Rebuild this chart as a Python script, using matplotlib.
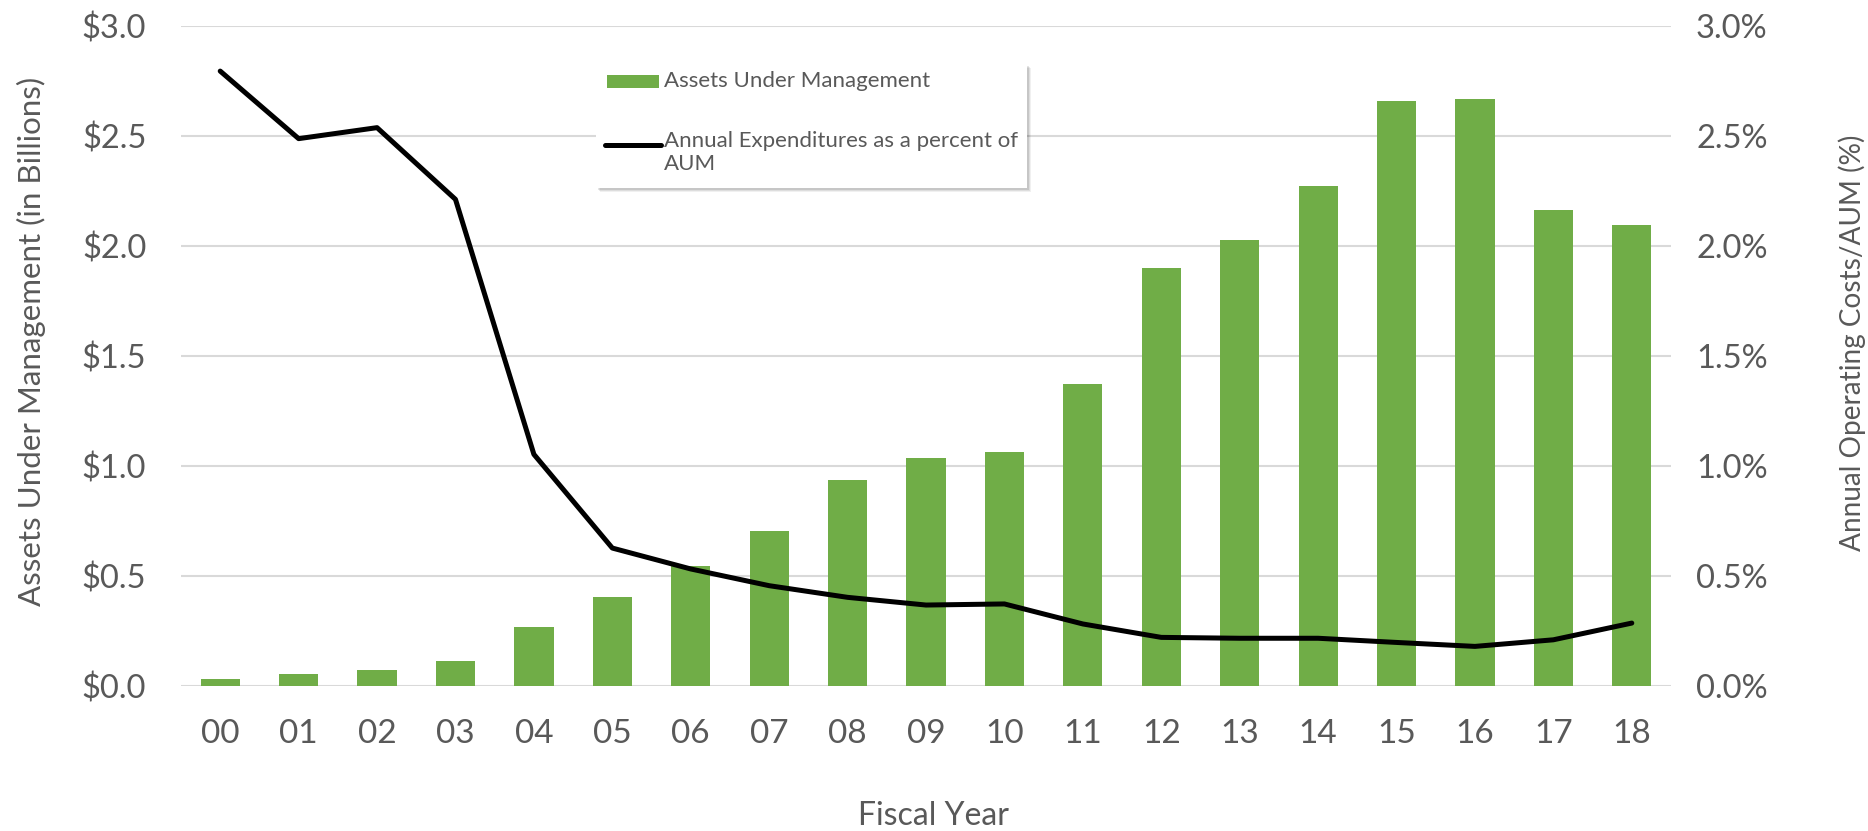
import matplotlib
matplotlib.use("Agg")
import matplotlib.pyplot as plt
from matplotlib.patches import Rectangle
from matplotlib.lines import Line2D

# data
years = ["00", "01", "02", "03", "04", "05", "06", "07", "08", "09",
         "10", "11", "12", "13", "14", "15", "16", "17", "18"]
aum_billions = [0.032, 0.055, 0.071, 0.115, 0.27, 0.405, 0.545, 0.706, 0.935, 1.038,
                1.064, 1.374, 1.90, 2.027, 2.271, 2.658, 2.666, 2.165, 2.095]
expense_pct = [2.795, 2.488, 2.538, 2.212, 1.053, 0.627, 0.532, 0.456, 0.403, 0.368,
               0.373, 0.282, 0.221, 0.217, 0.217, 0.198, 0.180, 0.210, 0.286]
left_ticks = [0.0, 0.5, 1.0, 1.5, 2.0, 2.5, 3.0]

GREEN = "#70AD47"
GREY_TXT = "#595959"
GRID = "#D9D9D9"
W, H = 1868, 831

fig = plt.figure(figsize=(W / 100, H / 100), dpi=100)
ax = fig.add_axes([181 / W, 1 - 686 / H, 1490 / W, 660 / H])
ax2 = ax.twinx()

x = list(range(len(years)))
ax.bar(x, aum_billions, width=0.5, color=GREEN, zorder=2)
ax2.plot(x, expense_pct, color="black", lw=3.6, solid_capstyle="round",
         solid_joinstyle="round", zorder=3)

ax.set_xlim(-0.5, len(years) - 0.5)
ax.set_ylim(0, 3.0)
ax2.set_ylim(0, 3.0)
ax.set_yticks(left_ticks)
ax.set_yticklabels([f"${v:.1f}" for v in left_ticks])
ax2.set_yticks(left_ticks)
ax2.set_yticklabels([f"{v:.1f}%" for v in left_ticks])
ax.set_xticks(x)
ax.set_xticklabels(years)

ax.grid(axis="y", color=GRID, lw=1.5, zorder=0)
ax.set_axisbelow(True)
for a in (ax, ax2):
    for s in a.spines.values():
        s.set_visible(False)
    a.tick_params(length=0)

ax.tick_params(axis="x", pad=24, labelsize=24, labelcolor=GREY_TXT)
ax.tick_params(axis="y", pad=25, labelsize=23.5, labelcolor=GREY_TXT)
ax2.tick_params(axis="y", pad=18, labelsize=23.5, labelcolor=GREY_TXT)
for t in ax.get_xticklabels() + ax.get_yticklabels() + ax2.get_yticklabels():
    t.set_family("Lato")

# axis titles
fig.text(31 / W, 1 - 341 / H, "Assets Under Management (in Billions)", rotation=90,
         ha="center", va="center", fontsize=22.5, color=GREY_TXT, family="Lato")
fig.text(1852 / W, 1 - 343 / H, "Annual Operating Costs/AUM (%)", rotation=90,
         ha="center", va="center", fontsize=20.2, color=GREY_TXT, family="Lato")
fig.text(933 / W, 1 - 816 / H, "Fiscal Year", ha="center", va="center",
         fontsize=23, color=GREY_TXT, family="Lato")

# legend box (Excel style, handle on first line of wrapped label)
bx, by, bw, bh = 596 / W, 1 - 188 / H, 431 / W, 124 / H
for i, al in enumerate([0.10, 0.08, 0.06]):
    off = (i + 2) / W
    fig.add_artist(Rectangle((bx + off, by - off * W / H), bw, bh, transform=fig.transFigure,
                             facecolor="black", edgecolor="none", alpha=al, zorder=9))
fig.add_artist(Rectangle((bx, by), bw, bh, transform=fig.transFigure,
                         facecolor="white", edgecolor="none", zorder=10))
fig.add_artist(Rectangle((607 / W, 1 - 88 / H), 52 / W, 13 / H, transform=fig.transFigure,
                         facecolor=GREEN, edgecolor="none", zorder=11))
fig.add_artist(Line2D([605 / W, 661 / W], [1 - 145 / H, 1 - 145 / H], transform=fig.transFigure,
                      color="black", lw=3.6, solid_capstyle="round", zorder=11))
fig.text(664 / W, 1 - 81 / H, "Assets Under Management", ha="left", va="center",
         fontsize=16, color=GREY_TXT, family="Lato", zorder=12)
fig.text(664 / W, 1 - 131 / H, "Annual Expenditures as a percent of\nAUM", ha="left", va="top",
         fontsize=16, color=GREY_TXT, family="Lato", linespacing=1.2, zorder=12)

fig.savefig("out.png", dpi=100, facecolor="white")
